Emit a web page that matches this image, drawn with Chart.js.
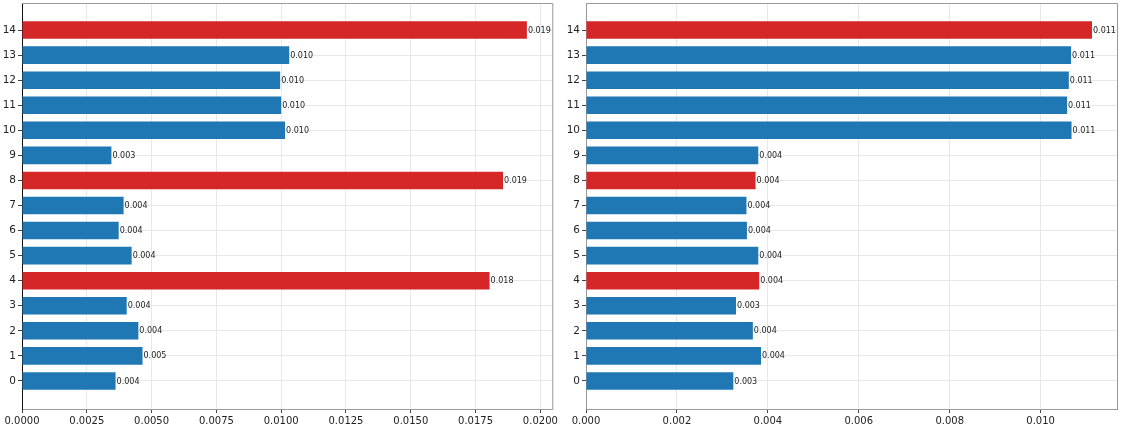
<!DOCTYPE html>
<html>
<head>
<meta charset="utf-8">
<script src="https://cdn.jsdelivr.net/npm/chart.js@4/dist/chart.umd.min.js"></script>
<style>
  html, body { margin: 0; padding: 0; background: #fff; }
  body { width: 1121px; height: 428px; position: relative; overflow: hidden; }
  .panel { position: absolute; top: 0; height: 428px; }
</style>
</head>
<body>
<div class="panel" style="left:0;width:560px"><canvas id="leftChart"></canvas></div>
<div class="panel" style="left:564px;width:557px"><canvas id="rightChart"></canvas></div>
<script>
// row index (drawn bottom to top)
var rows = [0, 1, 2, 3, 4, 5, 6, 7, 8, 9, 10, 11, 12, 13, 14];
// rows drawn in red
var highlighted = [4, 8, 14];

var leftValues = [0.00361, 0.00465, 0.00449, 0.00404, 0.01804, 0.00423, 0.00373,
                  0.00392, 0.01856, 0.00345, 0.01015, 0.0100, 0.00996, 0.01031, 0.01948];
var rightValues = [0.00324, 0.00385, 0.00367, 0.00330, 0.00381, 0.00379, 0.00354,
                   0.00353, 0.00373, 0.00379, 0.01068, 0.01058, 0.01062, 0.01067, 0.01113];

var leftTicks = [0, 0.0025, 0.005, 0.0075, 0.01, 0.0125, 0.015, 0.0175, 0.02];
var rightTicks = [0, 0.002, 0.004, 0.006, 0.008, 0.010];

var BLUE = '#1f77b4', RED = '#d62728';

// writes the value at the end of each bar
var valueLabels = {
    id: 'valueLabels',
    afterDatasetsDraw: function (chart) {
        var ctx = chart.ctx;
        var meta = chart.getDatasetMeta(0);
        ctx.save();
        ctx.font = '8px "DejaVu Sans"';
        ctx.fillStyle = '#222';
        ctx.textAlign = 'left';
        ctx.textBaseline = 'middle';
        meta.data.forEach(function (bar, i) {
            var v = chart.data.datasets[0].data[i].x;
            ctx.fillText(v.toFixed(3), bar.x + 1, bar.y + 0.5);
        });
        ctx.restore();
    }
};

function makeChart(id, values, ticks, decimals, xMax, rightPad, darkLeft) {
    var points = rows.map(function (r, i) { return { x: values[i], y: r }; });
    var colors = rows.map(function (r) { return highlighted.indexOf(r) >= 0 ? RED : BLUE; });

    return new Chart(document.getElementById(id).getContext('2d'), {
        type: 'bar',
        data: {
            datasets: [{
                data: points,
                backgroundColor: colors,
                borderColor: colors,
                borderWidth: 0,
                categoryPercentage: 1,
                barPercentage: 0.7
            }]
        },
        options: {
            indexAxis: 'y',
            responsive: true,
            maintainAspectRatio: false,
            animation: false,
            layout: { padding: { top: 3, right: rightPad, left: 0, bottom: 0 } },
            plugins: { legend: { display: false }, tooltip: { enabled: false } },
            scales: {
                x: {
                    type: 'linear',
                    min: 0,
                    max: xMax,
                    afterBuildTicks: function (axis) {
                        axis.ticks = ticks.map(function (t) { return { value: t }; });
                    },
                    afterFit: function (axis) { axis.height = 19; },
                    ticks: {
                        font: { family: 'DejaVu Sans', size: 10 },
                        color: '#222',
                        padding: 2,
                        maxRotation: 0,
                        callback: function (v) { return Number(v).toFixed(decimals); }
                    },
                    grid: { color: '#e8e8e8', tickColor: '#444', tickLength: 4 },
                    border: { color: '#999', width: 1 }
                },
                y: {
                    type: 'linear',
                    min: -1.12,
                    max: 15.08,
                    offset: false,
                    afterBuildTicks: function (axis) {
                        axis.ticks = rows.map(function (r) { return { value: r }; });
                    },
                    afterFit: function (axis) {
                        axis.width = 22;
                        axis.paddingTop = 0;
                        axis.paddingBottom = 0;
                    },
                    ticks: {
                        font: { family: 'DejaVu Sans', size: 10.5 },
                        color: '#222',
                        padding: 2,
                        callback: function (v) { return String(v); }
                    },
                    grid: { offset: false, color: '#e8e8e8', tickColor: '#444', tickLength: 4 },
                    border: { color: darkLeft ? '#111' : '#999', width: 1 }
                }
            }
        },
        plugins: [valueLabels, {
            id: 'frame',
            afterDraw: function (chart) {
                var a = chart.chartArea, ctx = chart.ctx;
                ctx.save();
                ctx.strokeStyle = '#999';
                ctx.lineWidth = 1;
                ctx.beginPath();
                ctx.moveTo(a.left, a.top + 0.5);
                ctx.lineTo(a.right + 0.5, a.top + 0.5);
                ctx.lineTo(a.right + 0.5, a.bottom);
                ctx.stroke();
                ctx.restore();
            }
        }]
    });
}

makeChart('leftChart', leftValues, leftTicks, 4, 0.02046, 6, true);
makeChart('rightChart', rightValues, rightTicks, 3, 0.01168, 4, false);
</script>
</body>
</html>
